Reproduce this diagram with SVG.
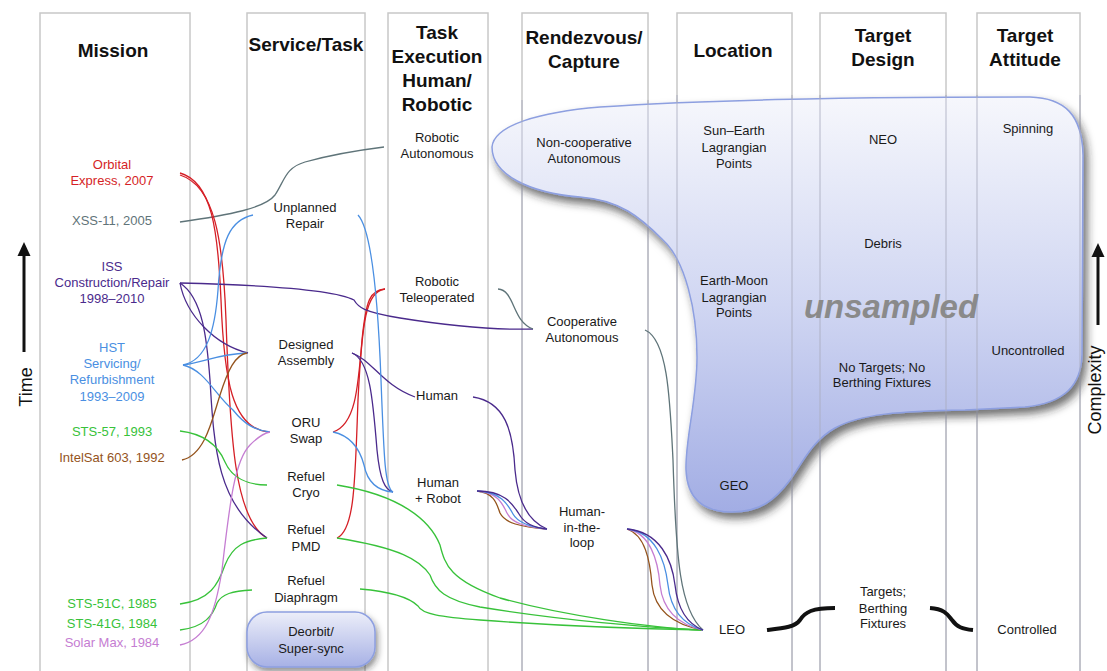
<svg xmlns="http://www.w3.org/2000/svg" width="1107" height="671" viewBox="0 0 1107 671">
<defs>
<linearGradient id="blobGrad" x1="0" y1="97" x2="0" y2="512" gradientUnits="userSpaceOnUse">
<stop offset="0" stop-color="#f6f7fc"/>
<stop offset="0.5" stop-color="#d0d6f2"/>
<stop offset="1" stop-color="#a2ade4"/>
</linearGradient>
<linearGradient id="boxGrad" x1="0" y1="0" x2="0" y2="1">
<stop offset="0" stop-color="#eceef9"/>
<stop offset="1" stop-color="#a7b1e5"/>
</linearGradient>
<filter id="shadow" x="-10%" y="-10%" width="130%" height="130%">
<feDropShadow dx="4" dy="6" stdDeviation="4" flood-color="#222" flood-opacity="0.65"/>
</filter>
<filter id="shadowSm" x="-20%" y="-30%" width="140%" height="170%">
<feDropShadow dx="2" dy="4" stdDeviation="3" flood-color="#222" flood-opacity="0.5"/>
</filter>
<style>
.col{fill:#fff;stroke:#c8c8c8;stroke-width:1.5}
.colLine{fill:none;stroke:#a9adbf;stroke-width:1.2;opacity:0.7}
.hdr{font-family:"Liberation Sans",Arial,sans-serif;font-weight:bold;font-size:19px;fill:#111;text-anchor:middle}
.lbl{font-family:"Liberation Sans",Arial,sans-serif;font-size:13px;fill:#1a1a1a;text-anchor:middle}
.ax{font-family:"Liberation Sans",Arial,sans-serif;font-size:18px;fill:#111;text-anchor:middle}
.c{fill:none;stroke-width:1.3}
.red{stroke:#d51f26}
.gray{stroke:#5f7479}
.pur{stroke:#4a2a8c}
.blu{stroke:#4a8fe2}
.grn{stroke:#38c23a}
.brn{stroke:#94531c}
.pnk{stroke:#c57dd2}
.curl{fill:none;stroke:#111;stroke-width:4}
</style>
</defs>

<g id="columns">
<rect class="col" x="40" y="13" width="150" height="670"/>
<rect class="col" x="247" y="13" width="118" height="670"/>
<rect class="col" x="388" y="13" width="100" height="670"/>
<rect class="col" x="522" y="13" width="126" height="670"/>
<rect class="col" x="677" y="13" width="115" height="670"/>
<rect class="col" x="820" y="13" width="126" height="670"/>
<rect class="col" x="977" y="13" width="103" height="670"/>
</g>

<g id="unsampled-region">
<path filter="url(#shadow)" fill="url(#blobGrad)" stroke="#8d9fe0" stroke-width="1.5" d="M492,147 C494,125 540,112 600,107 C700,100 850,97 1030,97 C1065,98 1082,115 1083,155 L1082,355 C1081,385 1065,403 1025,407 L965,410 C900,411 860,414 835,428 C812,441 803,462 790,480 C775,500 760,512 732,512 C700,512 687,495 686,470 C685,440 697,400 697,357 C697,310 685,260 663,240 C640,217 620,200 580,197 C530,193 492,175 492,147 Z"/>
</g>

<g id="column-lines-overlay">
<path class="colLine" d="M522,100 V671 M648,100 V671 M677,95 V671 M792,95 V671 M820,95 V671 M946,95 V671 M977,95 V671 M1080,95 V671"/>
</g>

<g id="headers">
<text class="hdr" x="113" y="57">Mission</text>
<text class="hdr" x="306" y="51">Service/Task</text>
<text class="hdr" x="437" y="39">Task</text>
<text class="hdr" x="437" y="63">Execution</text>
<text class="hdr" x="437" y="87">Human/</text>
<text class="hdr" x="437" y="111">Robotic</text>
<text class="hdr" x="584" y="44">Rendezvous/</text>
<text class="hdr" x="584" y="68">Capture</text>
<text class="hdr" x="733" y="57">Location</text>
<text class="hdr" x="883" y="42">Target</text>
<text class="hdr" x="883" y="66">Design</text>
<text class="hdr" x="1025" y="42">Target</text>
<text class="hdr" x="1025" y="66">Attitude</text>
</g>

<g id="axes">
<line x1="24" y1="352" x2="24" y2="252" stroke="#111" stroke-width="3"/>
<path d="M24,242 L17.5,256 L30.5,256 Z" fill="#111"/>
<text class="ax" x="32" y="387" transform="rotate(-90 32 387)">Time</text>
<line x1="1098" y1="325" x2="1098" y2="253" stroke="#111" stroke-width="3"/>
<path d="M1098,243 L1091.5,257 L1104.5,257 Z" fill="#111"/>
<text class="ax" x="1101" y="390" transform="rotate(-90 1101 390)">Complexity</text>
</g>

<g id="connectors">
<path class="c gray" d="M180,222 C230,215 265,208 275,195 C285,180 285,168 305,162 C330,155 360,150 384,147"/>
<path class="c red" d="M180,173 C212,182 218,230 221,300 C224,380 232,428 268,432"/>
<path class="c red" d="M180,175 C215,186 223,240 226,320 C230,440 235,520 267,538"/>
<path class="c red" d="M333,432 C355,425 358,390 362,340 C366,300 370,290 385,289"/>
<path class="c red" d="M337,538 C355,530 355,480 358,400 C362,320 366,292 385,289"/>
<path class="c pur" d="M180,283 C260,285 335,290 354,300 C358,307 363,312 400,318 C450,326 500,330 533,329"/>
<path class="c pur" d="M180,283 C186,315 215,345 248,353"/>
<path class="c pur" d="M180,283 C203,298 207,340 210,380 C214,450 218,505 267,538"/>
<path class="c pur" d="M352,353 C372,360 382,385 415,397"/>
<path class="c pur" d="M352,353 C370,360 373,400 377,450 C380,480 385,490 393,492"/>
<path class="c pur" d="M473,397 C505,402 513,430 515,470 C518,505 530,522 547,529"/>
<path class="c blu" d="M183,365 C207,360 215,330 218,290 C221,240 230,220 253,215"/>
<path class="c blu" d="M183,365 C205,362 218,354 247,353"/>
<path class="c blu" d="M183,365 C205,370 215,395 233,410 C245,425 255,430 270,432"/>
<path class="c blu" d="M358,215 C372,230 378,300 381,380 C384,460 385,488 393,492"/>
<path class="c blu" d="M333,432 C352,436 360,450 364,465 C368,485 380,491 393,492"/>
<path class="c brn" d="M182,460 C205,455 212,420 220,395 C228,370 235,355 247,353"/>
<path class="c grn" d="M180,431 C205,434 218,445 225,462 C232,478 248,485 267,485"/>
<path class="c grn" d="M337,485 C400,495 430,520 440,545 C445,565 450,580 500,598 C560,615 650,628 703,630"/>
<path class="c grn" d="M180,604 C210,600 218,585 225,565 C233,545 245,540 267,538"/>
<path class="c grn" d="M337,538 C400,548 420,560 430,575 C435,590 445,600 480,607 C560,620 650,628 703,630"/>
<path class="c grn" d="M180,630 C205,627 213,615 217,603 C222,594 232,591 252,590"/>
<path class="c grn" d="M360,589 C395,592 410,598 418,606 C422,614 440,617 480,620 C560,626 650,629 703,630"/>
<path class="c pnk" d="M180,645 C205,640 215,615 222,570 C230,500 235,460 250,445 C258,437 264,433 270,432"/>
<path class="c gray" d="M498,289 C515,290 512,322 533,329"/>
<path class="c gray" d="M645,330 C668,340 670,400 673,460 C676,560 680,610 703,630"/>
<path class="c brn" d="M477,491 C495,493 497,505 500,513 C505,523 520,527 547,529"/>
<path class="c pnk" d="M477,491 C498,492 503,505 507,513 C512,523 525,527 547,529"/>
<path class="c blu" d="M477,491 C502,492 508,505 513,514 C518,523 530,527 547,529"/>
<path class="c pur" d="M477,491 C506,491 513,505 519,514 C524,523 535,528 547,529"/>
<path class="c brn" d="M627,529 C645,535 650,560 652,585 C655,612 675,625 703,630"/>
<path class="c pnk" d="M627,529 C650,533 658,560 660,585 C663,612 680,625 703,630"/>
<path class="c blu" d="M627,529 C655,532 665,560 668,585 C671,612 685,625 703,630"/>
<path class="c pur" d="M627,529 C660,532 672,560 675,585 C678,612 690,625 703,630"/>
<path class="curl" d="M767,630 C785,628 795,627 800,620 C805,612 812,608 835,608"/>
<path class="curl" d="M930,608 C945,609 948,615 952,620 C957,627 962,629 973,630"/>
</g>

<g id="mission-orbital-express"><text class="lbl" style="fill:#d51f26" x="112" y="169">Orbital</text><text class="lbl" style="fill:#d51f26" x="112" y="185">Express, 2007</text></g>
<g id="mission-xss11"><text class="lbl" style="fill:#5f7479" x="112" y="225">XSS-11, 2005</text></g>
<g id="mission-iss"><text class="lbl" style="fill:#4a2a8c" x="112" y="271">ISS</text><text class="lbl" style="fill:#4a2a8c" x="112" y="287">Construction/Repair</text><text class="lbl" style="fill:#4a2a8c" x="112" y="303">1998–2010</text></g>
<g id="mission-hst"><text class="lbl" style="fill:#4a8fe2" x="112" y="352">HST</text><text class="lbl" style="fill:#4a8fe2" x="112" y="368">Servicing/</text><text class="lbl" style="fill:#4a8fe2" x="112" y="384">Refurbishment</text><text class="lbl" style="fill:#4a8fe2" x="112" y="401">1993–2009</text></g>
<g id="mission-sts57"><text class="lbl" style="fill:#38c23a" x="112" y="436">STS-57, 1993</text></g>
<g id="mission-intelsat"><text class="lbl" style="fill:#94531c" x="112" y="462">IntelSat 603, 1992</text></g>
<g id="mission-sts51c"><text class="lbl" style="fill:#38c23a" x="112" y="608">STS-51C, 1985</text></g>
<g id="mission-sts41g"><text class="lbl" style="fill:#38c23a" x="112" y="628">STS-41G, 1984</text></g>
<g id="mission-solarmax"><text class="lbl" style="fill:#c57dd2" x="112" y="647">Solar Max, 1984</text></g>

<g id="task-unplanned-repair"><text class="lbl" x="305" y="212">Unplanned</text><text class="lbl" x="305" y="228">Repair</text></g>
<g id="task-designed-assembly"><text class="lbl" x="306" y="349">Designed</text><text class="lbl" x="306" y="365">Assembly</text></g>
<g id="task-oru-swap"><text class="lbl" x="306" y="427">ORU</text><text class="lbl" x="306" y="443">Swap</text></g>
<g id="task-refuel-cryo"><text class="lbl" x="306" y="481">Refuel</text><text class="lbl" x="306" y="497">Cryo</text></g>
<g id="task-refuel-pmd"><text class="lbl" x="306" y="534">Refuel</text><text class="lbl" x="306" y="551">PMD</text></g>
<g id="task-refuel-diaphragm"><text class="lbl" x="306" y="585">Refuel</text><text class="lbl" x="306" y="602">Diaphragm</text></g>
<g id="task-deorbit"><rect x="247" y="612" width="128" height="55" rx="20" ry="20" fill="url(#boxGrad)" stroke="#8d9fe0" stroke-width="1.5" filter="url(#shadowSm)"/><text class="lbl" x="311" y="636">Deorbit/</text><text class="lbl" x="311" y="653">Super-sync</text></g>

<g id="exec-robotic-autonomous"><text class="lbl" x="437" y="142">Robotic</text><text class="lbl" x="437" y="158">Autonomous</text></g>
<g id="exec-robotic-teleoperated"><text class="lbl" x="437" y="286">Robotic</text><text class="lbl" x="437" y="302">Teleoperated</text></g>
<g id="exec-human"><text class="lbl" x="437" y="400">Human</text></g>
<g id="exec-human-robot"><text class="lbl" x="438" y="487">Human</text><text class="lbl" x="438" y="503">+ Robot</text></g>

<g id="rv-noncoop"><text class="lbl" x="584" y="147">Non-cooperative</text><text class="lbl" x="584" y="163">Autonomous</text></g>
<g id="rv-coop"><text class="lbl" x="582" y="326">Cooperative</text><text class="lbl" x="582" y="342">Autonomous</text></g>
<g id="rv-hitl"><text class="lbl" x="582" y="516">Human-</text><text class="lbl" x="582" y="532">in-the-</text><text class="lbl" x="582" y="547">loop</text></g>

<g id="loc-sun-earth"><text class="lbl" x="734" y="135">Sun–Earth</text><text class="lbl" x="734" y="152">Lagrangian</text><text class="lbl" x="734" y="168">Points</text></g>
<g id="loc-earth-moon"><text class="lbl" x="734" y="285">Earth-Moon</text><text class="lbl" x="734" y="302">Lagrangian</text><text class="lbl" x="734" y="317">Points</text></g>
<g id="loc-geo"><text class="lbl" x="734" y="490">GEO</text></g>
<g id="loc-leo"><text class="lbl" x="732" y="634">LEO</text></g>

<g id="design-neo"><text class="lbl" x="883" y="144">NEO</text></g>
<g id="design-debris"><text class="lbl" x="883" y="248">Debris</text></g>
<g id="design-no-targets"><text class="lbl" x="882" y="372">No Targets; No</text><text class="lbl" x="882" y="387">Berthing Fixtures</text></g>
<g id="design-targets"><text class="lbl" x="883" y="596">Targets;</text><text class="lbl" x="883" y="613">Berthing</text><text class="lbl" x="883" y="628">Fixtures</text></g>

<g id="att-spinning"><text class="lbl" x="1028" y="133">Spinning</text></g>
<g id="att-uncontrolled"><text class="lbl" x="1028" y="355">Uncontrolled</text></g>
<g id="att-controlled"><text class="lbl" x="1027" y="634">Controlled</text></g>

<text x="891" y="318" font-family="Liberation Sans, Arial, sans-serif" font-weight="bold" font-style="italic" font-size="33" fill="#8a8a8a" text-anchor="middle">unsampled</text>
</svg>
